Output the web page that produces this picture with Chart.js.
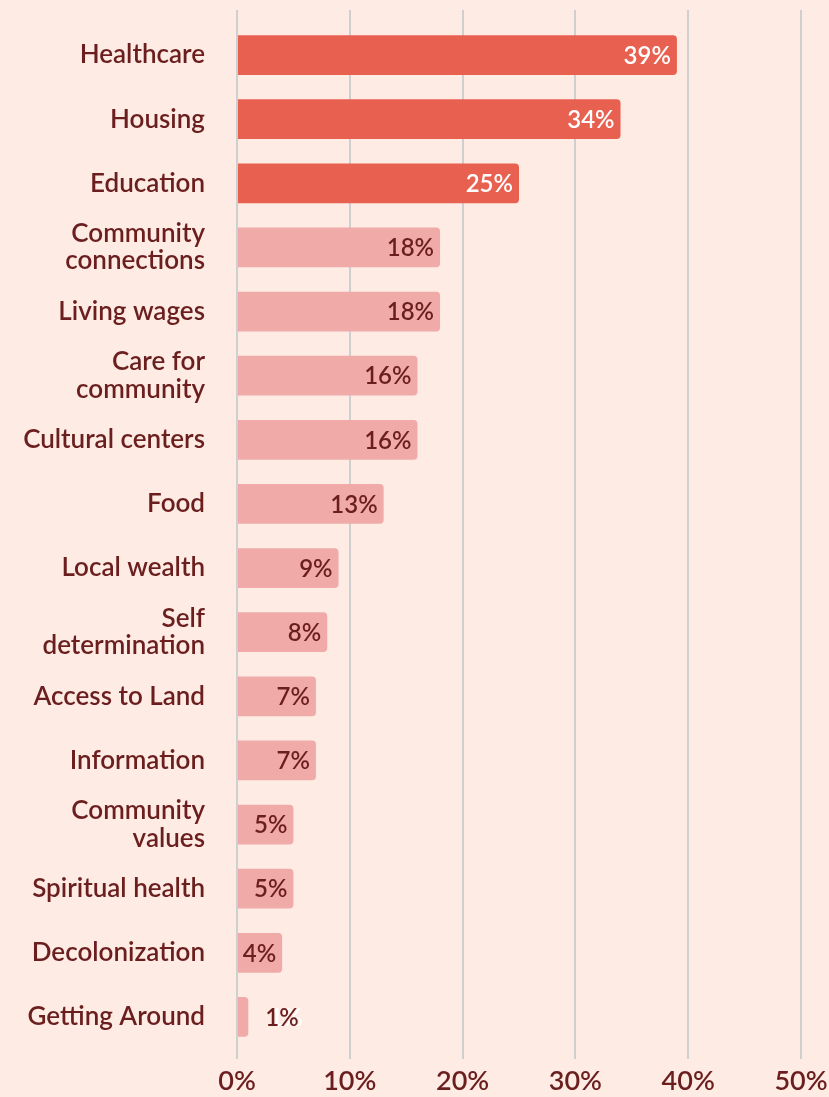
<!DOCTYPE html>
<html>
<head>
<meta charset="utf-8">
<script src="https://cdn.jsdelivr.net/npm/chart.js@4"></script>
<style>
  html, body { margin:0; padding:0; background:#fdebe4; }
  #wrap { width:829px; height:1097px; position:relative; }
</style>
</head>
<body>
<div id="wrap"><canvas id="c"></canvas></div>
<script>
// ── Data ─────────────────────────────────────────────
const categories = [
  'Healthcare', 'Housing', 'Education', ['Community', 'connections'], 'Living wages',
  ['Care for', 'community'], 'Cultural centers', 'Food', 'Local wealth', ['Self', 'determination'],
  'Access to Land', 'Information', ['Community', 'values'], 'Spiritual health', 'Decolonization', 'Getting Around'
];
const values = [39, 34, 25, 18, 18, 16, 16, 13, 9, 8, 7, 7, 5, 5, 4, 1];
const highlightCount = 3;   // top bars in the strong colour
const xTicks = [0, 10, 20, 30, 40, 50];

const RED = '#e8604f', PINK = '#f0aaa8', TEXT = '#6b1e1e', GRID = '#cfcfcf';
const FONT = 'Lato, "Open Sans", sans-serif';

// value labels at the bar ends
const valueLabels = {
  id: 'valueLabels',
  afterDatasetsDraw(chart) {
    const ctx = chart.ctx;
    const meta = chart.getDatasetMeta(0);
    ctx.save();
    ctx.font = '600 24px ' + FONT;
    ctx.textBaseline = 'middle';
    meta.data.forEach((bar, i) => {
      const txt = values[i] + '%';
      if (values[i] >= 2) {
        ctx.textAlign = 'right';
        ctx.fillStyle = i < highlightCount ? '#ffffff' : TEXT;
        ctx.fillText(txt, bar.x - 6, bar.y + 1);
      } else {
        // tiny bar: label sits outside, with a white ghost behind it
        ctx.textAlign = 'left';
        ctx.fillStyle = '#ffffff';
        ctx.fillText(txt, bar.x + 21, bar.y + 1);
        ctx.fillStyle = TEXT;
        ctx.fillText(txt, bar.x + 17, bar.y + 1);
      }
    });
    ctx.restore();
  }
};

// grid lines run a bit above the plot area
const gridTop = {
  id: 'gridTop',
  beforeDatasetsDraw(chart) {
    const { ctx, chartArea, scales } = chart;
    ctx.save();
    ctx.strokeStyle = GRID;
    ctx.lineWidth = 2;
    xTicks.forEach(t => {
      const x = Math.round(scales.x.getPixelForValue(t));
      ctx.beginPath();
      ctx.moveTo(x, chartArea.top - 13);
      ctx.lineTo(x, chartArea.top);
      ctx.stroke();
    });
    ctx.restore();
  }
};

new Chart(document.getElementById('c'), {
  type: 'bar',
  data: {
    labels: categories,
    datasets: [{
      data: values,
      backgroundColor: values.map((v, i) => i < highlightCount ? RED : PINK),
      borderRadius: 4,
      borderSkipped: 'start',
      barPercentage: 0.62,
      categoryPercentage: 1,
    }],
  },
  options: {
    indexAxis: 'y',
    responsive: true, maintainAspectRatio: false,
    animation: false,
    layout: { padding: { top: 23, right: 28 } },
    plugins: { legend: { display: false }, tooltip: { enabled: false } },
    scales: {
      x: {
        min: 0, max: 50,
        afterBuildTicks: s => { s.ticks = xTicks.map(v => ({ value: v })); },
        afterFit: s => { s.height = 48; s.paddingLeft = 0; s.paddingRight = 0; },
        grid: { color: GRID, lineWidth: 2, tickLength: 10, tickColor: GRID },
        border: { display: false },
        ticks: { color: TEXT, font: { family: FONT, size: 27, weight: '600' }, padding: 6, callback: v => v + '%' },
      },
      y: {
        afterFit: s => { s.width = 237; s.paddingTop = 0; s.paddingBottom = 0; },
        grid: { display: false },
        border: { display: false },
        ticks: { color: TEXT, font: { family: FONT, size: 26, weight: '600', lineHeight: 1.05 }, padding: 24 },
      },
    },
  },
  plugins: [gridTop, valueLabels],
});
</script>
</body>
</html>
